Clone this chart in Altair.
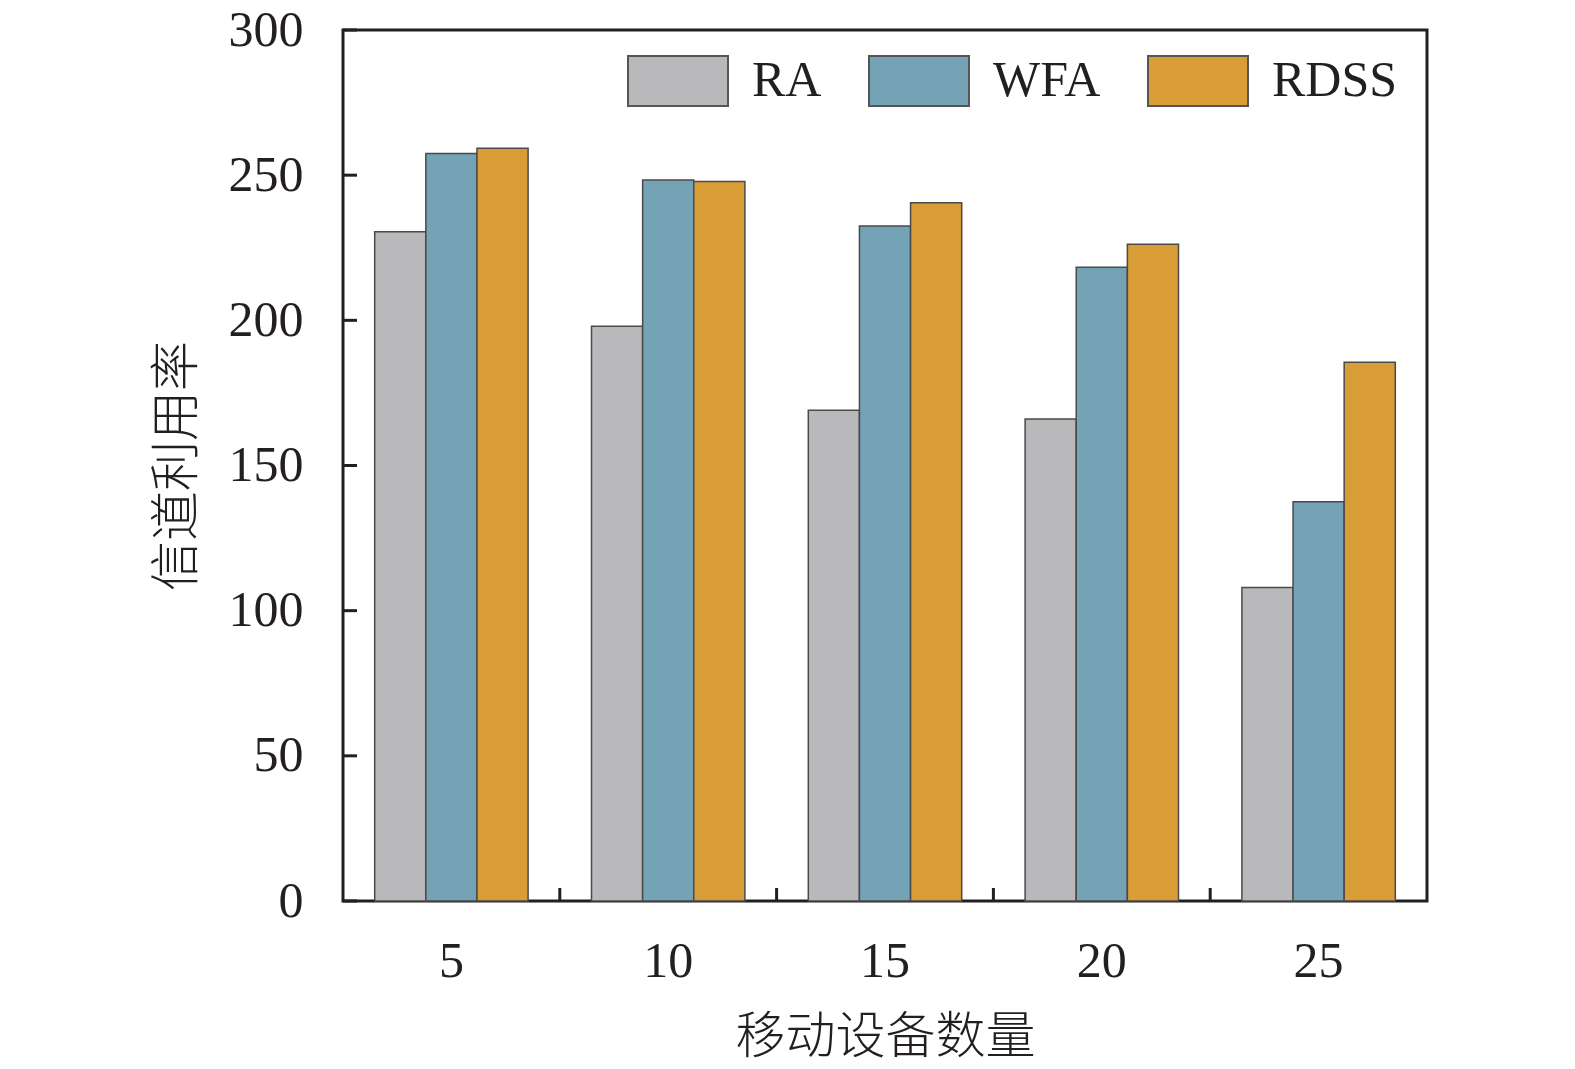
import altair as alt
import pandas as pd

groups = ["5", "10", "15", "20", "25"]
series = ["RA", "WFA", "RDSS"]
ra = [230.5, 198.0, 169.0, 166.0, 108.0]
wfa = [257.5, 248.3, 232.5, 218.3, 137.5]
rdss = [259.3, 247.8, 240.5, 226.2, 185.6]
colors = ["#B9B9BB", "#73A3B5", "#D99D38"]
y_ticks = [0, 50, 100, 150, 200, 250, 300]
x_tick_groups = ["10", "15", "20", "25"]

rows = []
for s, vals in zip(series, [ra, wfa, rdss]):
    for g, v in zip(groups, vals):
        rows.append({"group": g, "series": s, "value": v})
df = pd.DataFrame(rows)

INK = "#231f20"
SERIF = "Liberation Serif"
CJK = "Noto Sans CJK SC"

W, H = 1084, 871

x_scale = alt.Scale(domain=groups, paddingInner=0, paddingOuter=0)
y_scale = alt.Scale(domain=[0, 300], nice=False)

x_axis = alt.Axis(title="移动设备数量", labelAngle=0, ticks=False, tickSize=0,
                  domain=False, labelPadding=35, titlePadding=26,
                  labelFont=SERIF, labelFontSize=50, labelColor=INK,
                  titleFont=CJK, titleFontSize=50, titleFontWeight=300,
                  titleColor=INK)
y_axis = alt.Axis(title="信道利用率", values=y_ticks, ticks=False, tickSize=0,
                  domain=False, grid=False, labelPadding=40, titlePadding=26,
                  labelFont=SERIF, labelFontSize=50, labelColor=INK,
                  titleFont=CJK, titleFontSize=50, titleFontWeight=300,
                  titleColor=INK)

bars = alt.Chart(df).mark_bar(stroke="#4a4a4a", strokeWidth=1.5, fillOpacity=1).encode(
    x=alt.X("group:N", sort=groups, scale=x_scale, axis=x_axis),
    xOffset=alt.XOffset("series:N", sort=series,
                        scale=alt.Scale(domain=series, paddingInner=0, paddingOuter=0.62)),
    y=alt.Y("value:Q", scale=y_scale, axis=y_axis),
    color=alt.Color("series:N", sort=series,
                    scale=alt.Scale(domain=series, range=colors),
                    legend=alt.Legend(title=None, orient="none", legendX=284, legendY=0,
                                      direction="horizontal",
                                      symbolType="M-1,-0.5H1V0.5H-1Z", symbolSize=10000,
                                      symbolStrokeColor="#555555", symbolStrokeWidth=2,
                                      symbolOpacity=1,
                                      labelFont=SERIF, labelFontSize=50, labelColor=INK,
                                      labelOffset=23, columnPadding=43, padding=0,
                                      labelLimit=400)),
)

ytick_df = pd.DataFrame({"value": y_ticks})
yticks = alt.Chart(ytick_df).mark_rule(color=INK, strokeWidth=3).encode(
    y=alt.Y("value:Q", scale=y_scale, axis=y_axis),
    x=alt.value(0),
    x2=alt.value(14),
)

xtick_df = pd.DataFrame({"group": x_tick_groups})
xticks = alt.Chart(xtick_df).mark_rule(color=INK, strokeWidth=3).encode(
    x=alt.X("group:N", sort=groups, scale=x_scale, bandPosition=0, axis=x_axis),
    y=alt.value(H - 13),
    y2=alt.value(H),
)

chart = alt.layer(bars, yticks, xticks).properties(
    width=W, height=H,
    autosize=alt.AutoSizeParams(type="none"),
    padding={"left": 335, "top": 22, "right": 130, "bottom": 160},
    background="white",
).configure_view(stroke=INK, strokeWidth=3)

chart.save("out.html", embed_options={"renderer": "svg", "actions": False})
